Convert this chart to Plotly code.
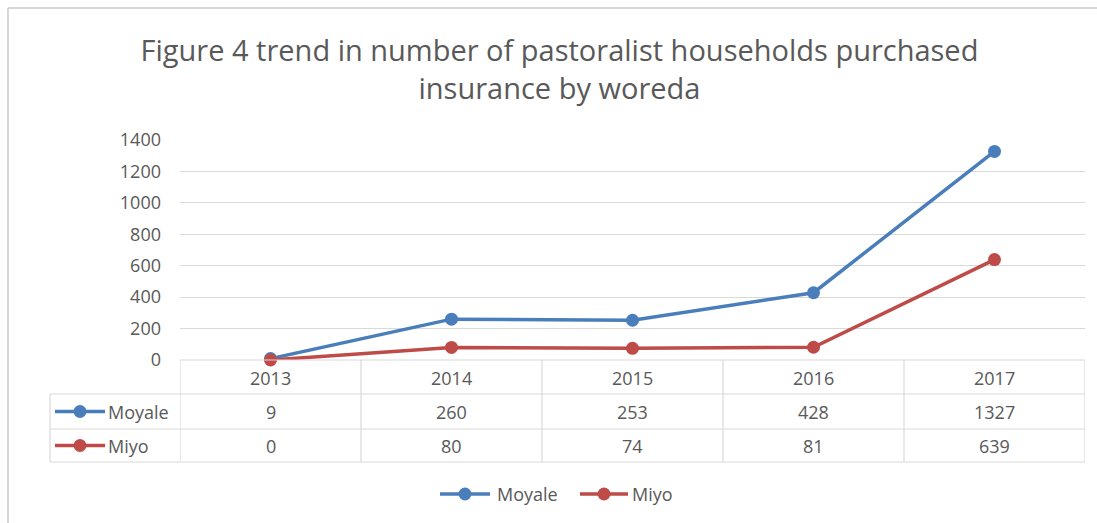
import plotly.graph_objects as go

years = ["2013", "2014", "2015", "2016", "2017"]
moyale = [9, 260, 253, 428, 1327]
miyo = [0, 80, 74, 81, 639]
series_names = ["Moyale", "Miyo"]
y_ticks = [0, 200, 400, 600, 800, 1000, 1200, 1400]

W, H = 1097, 523
L, R, T, B = 180, 12, 140, 163
PW, PH = W - L - R, H - T - B
BLUE = "#4A7EBB"
RED = "#BE4B48"
TXT = "#595959"
GRID = "#D9D9D9"
FONT = "Open Sans"


def px(x):
    return (x - L) / PW


def py(y):
    return (H - B - y) / PH


series = [(series_names[0], moyale, BLUE), (series_names[1], miyo, RED)]

fig = go.Figure()
for name, vals, col in series:
    fig.add_trace(go.Scatter(
        x=years, y=vals, name=name, mode="lines+markers",
        line=dict(color=col, width=3.5),
        marker=dict(color=col, size=13),
        cliponaxis=False, showlegend=False,
    ))

shapes = []
annotations = []

# outer frame (top and left)
shapes.append(dict(type="line", xref="paper", yref="paper", x0=px(8), x1=px(W + 5),
                   y0=py(8), y1=py(8), line=dict(color="#C8C8C8", width=1.5)))
shapes.append(dict(type="line", xref="paper", yref="paper", x0=px(8), x1=px(8),
                   y0=py(8), y1=py(H + 5), line=dict(color="#C8C8C8", width=1.5)))

# data table rows (pixel boundaries)
row_top = [360, 394, 429, 462]
shapes.append(dict(type="line", xref="x", yref="paper", x0=-0.5, x1=len(years) - 0.5,
                   y0=py(row_top[0]), y1=py(row_top[0]), line=dict(color=GRID, width=1.2)))
for yy in row_top[1:]:
    shapes.append(dict(type="line", xref="paper", yref="paper", x0=px(50), x1=1,
                       y0=py(yy), y1=py(yy), line=dict(color=GRID, width=1.2)))
for i in range(len(years) + 1):
    shapes.append(dict(type="line", xref="x", yref="paper", x0=i - 0.5, x1=i - 0.5,
                       y0=py(row_top[0]), y1=py(row_top[3]), line=dict(color=GRID, width=1.2)))
shapes.append(dict(type="line", xref="paper", yref="paper", x0=px(50), x1=px(50),
                   y0=py(row_top[1]), y1=py(row_top[3]), line=dict(color=GRID, width=1.2)))

cell_font = dict(family=FONT, size=18, color=TXT)


def legend_icon(x0, x1, yc, col):
    xm = (x0 + x1) / 2
    shapes.append(dict(type="line", xref="paper", yref="paper", x0=px(x0), x1=px(x1),
                       y0=py(yc), y1=py(yc), line=dict(color=col, width=3.5)))
    shapes.append(dict(type="circle", xref="paper", yref="paper", x0=px(xm - 6.5), x1=px(xm + 6.5),
                       y0=py(yc - 6.5), y1=py(yc + 6.5), fillcolor=col, line=dict(color=col, width=0)))


# header row: years
for i, yr in enumerate(years):
    annotations.append(dict(x=i, xref="x", y=py((row_top[0] + row_top[1]) / 2 + 1), yref="paper",
                            xanchor="center", yanchor="middle",
                            text=yr, showarrow=False, font=cell_font))

# data rows
for r, (name, vals, col) in enumerate(series):
    yc = (row_top[r + 1] + row_top[r + 2]) / 2
    for i, v in enumerate(vals):
        annotations.append(dict(x=i, xref="x", y=py(yc), yref="paper", text=str(v),
                                xanchor="center", yanchor="middle",
                                showarrow=False, font=cell_font))
    annotations.append(dict(x=px(106), xref="paper", xanchor="left", y=py(yc), yref="paper",
                            yanchor="middle", text=name, showarrow=False, font=cell_font))
    legend_icon(55, 105, yc, col)

# bottom legend
leg_pos = [(440, 490, 495), (580, 628, 630)]
for (name, vals, col), (a, b, t) in zip(series, leg_pos):
    legend_icon(a, b, 494, col)
    annotations.append(dict(x=px(t), xref="paper", xanchor="left", y=py(494), yref="paper",
                            yanchor="middle", text=name, showarrow=False, font=cell_font))

fig.update_layout(
    width=W, height=H,
    margin=dict(l=L, r=R, t=T, b=B),
    paper_bgcolor="white", plot_bgcolor="white",
    title=dict(text="Figure 4 trend in number of pastoralist households purchased<br>insurance by woreda",
               x=0.51, xanchor="center", y=1 - 61 / H, yanchor="middle",
               font=dict(family=FONT, size=29, color=TXT)),
    xaxis=dict(type="category", range=[-0.5, len(years) - 0.5], showticklabels=False,
               showgrid=False, zeroline=False, showline=False, fixedrange=True),
    yaxis=dict(range=[0, 1400], tickvals=y_ticks, showgrid=True, gridcolor=GRID, gridwidth=1.2,
               zeroline=False, showline=False, ticks="", ticklabelstandoff=18,
               tickfont=dict(family=FONT, size=18, color=TXT)),
    showlegend=False,
    shapes=shapes,
    annotations=annotations,
)

fig.write_html("out.html")
